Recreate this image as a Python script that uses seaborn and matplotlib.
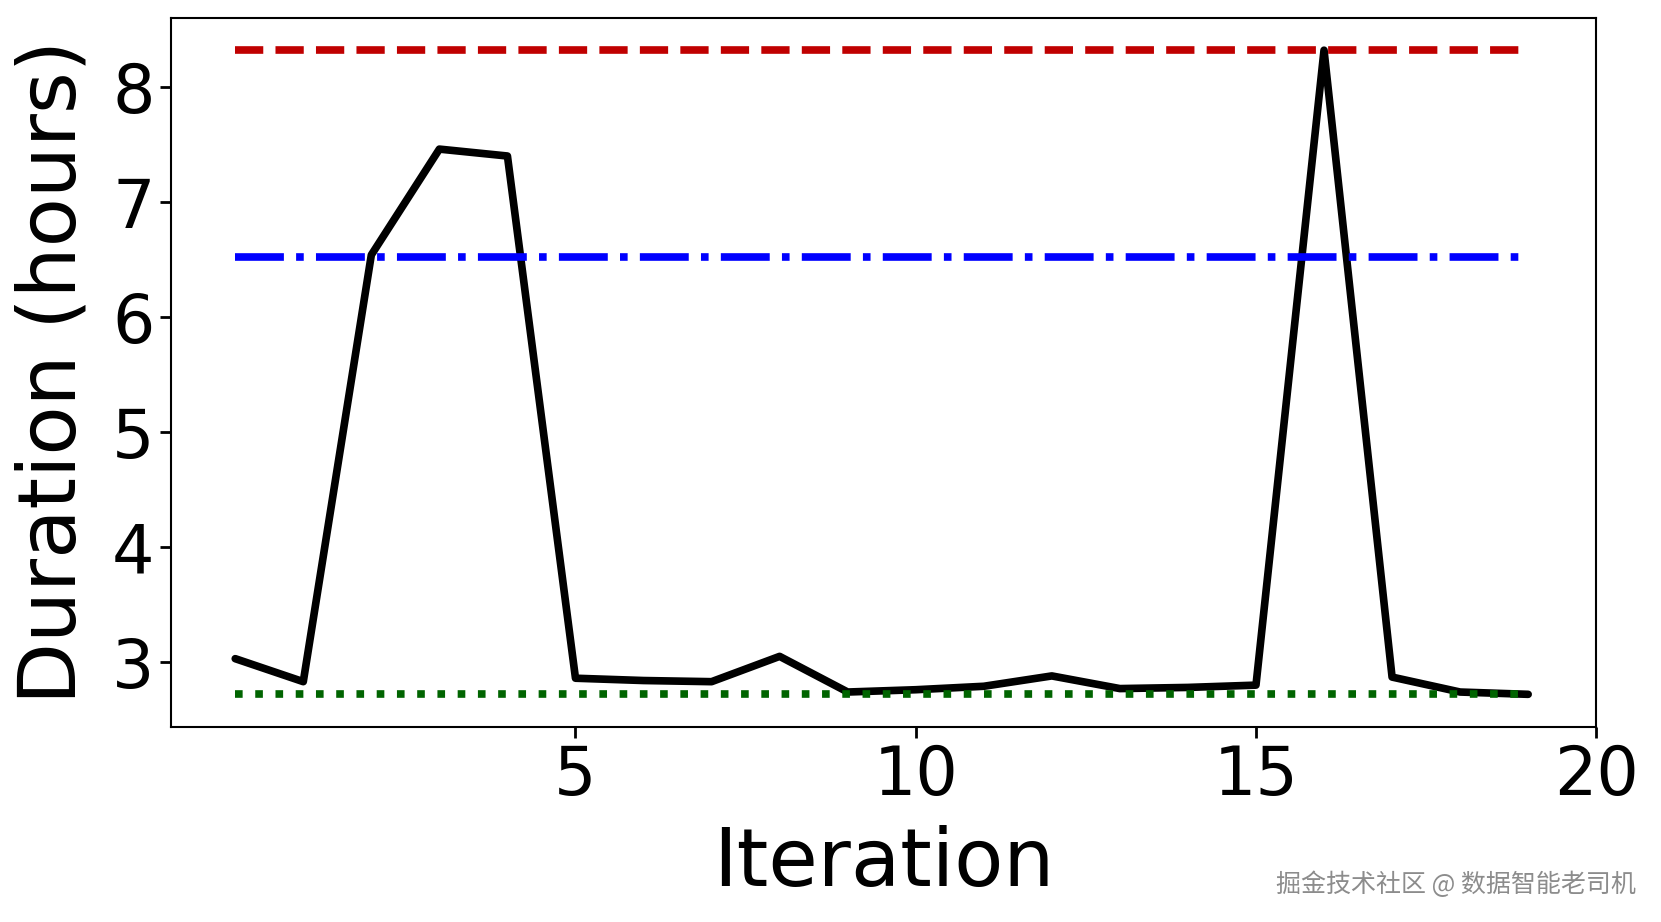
import numpy as np
import pandas as pd
import seaborn as sns
import matplotlib.pyplot as plt

# iteration durations
iterations = list(range(20))
durations = [3.03, 2.83, 6.54, 7.46, 7.40, 2.86, 2.84, 2.83, 3.05, 2.74,
             2.76, 2.79, 2.88, 2.77, 2.78, 2.80, 8.32, 2.87, 2.74, 2.72]

# reference levels
max_level = 8.32
mid_level = 6.52
min_level = 2.72

df = pd.DataFrame({'Iteration': iterations, 'Duration': durations})

sns.set_style('ticks')
plt.rcParams['font.family'] = ['DejaVu Sans', 'Noto Sans CJK SC']
plt.rcParams['text.color'] = 'black'
plt.rcParams['axes.labelcolor'] = 'black'
plt.rcParams['xtick.color'] = 'black'
plt.rcParams['ytick.color'] = 'black'

fig, ax = plt.subplots(figsize=(16.61, 9.22), dpi=100)
fig.subplots_adjust(left=0.1027, right=0.961, bottom=0.212, top=0.9805)

sns.lineplot(data=df, x='Iteration', y='Duration', ax=ax, color='black', linewidth=5.5)
ax.hlines(max_level, iterations[0], iterations[-1], colors='#c00000', linestyles='--', linewidth=5.5)
ax.hlines(mid_level, iterations[0], iterations[-1], colors='blue', linestyles='-.', linewidth=5.5)
ax.hlines(min_level, iterations[0], iterations[-1], colors='darkgreen', linestyles=':', linewidth=5.5)

ax.set_xlim(-0.95, 20)
ax.set_ylim(2.44, 8.6)
ax.set_xticks([5, 10, 15, 20])
ax.set_yticks([3, 4, 5, 6, 7, 8])
ax.tick_params(labelsize=48, length=8, width=2, color='black', labelcolor='black')
for s in ax.spines.values():
    s.set_color('black')
    s.set_linewidth(1.5)
ax.set_xlabel('Iteration', fontsize=58, labelpad=12)
ax.set_ylabel('Duration (hours)', fontsize=58, labelpad=14)

fig.text(0.985, 0.04, '掘金技术社区 @ 数据智能老司机', ha='right', va='center',
         fontsize=18, color='#8c8c8c', family=['Noto Sans CJK SC', 'DejaVu Sans'])

plt.savefig('out.png')
